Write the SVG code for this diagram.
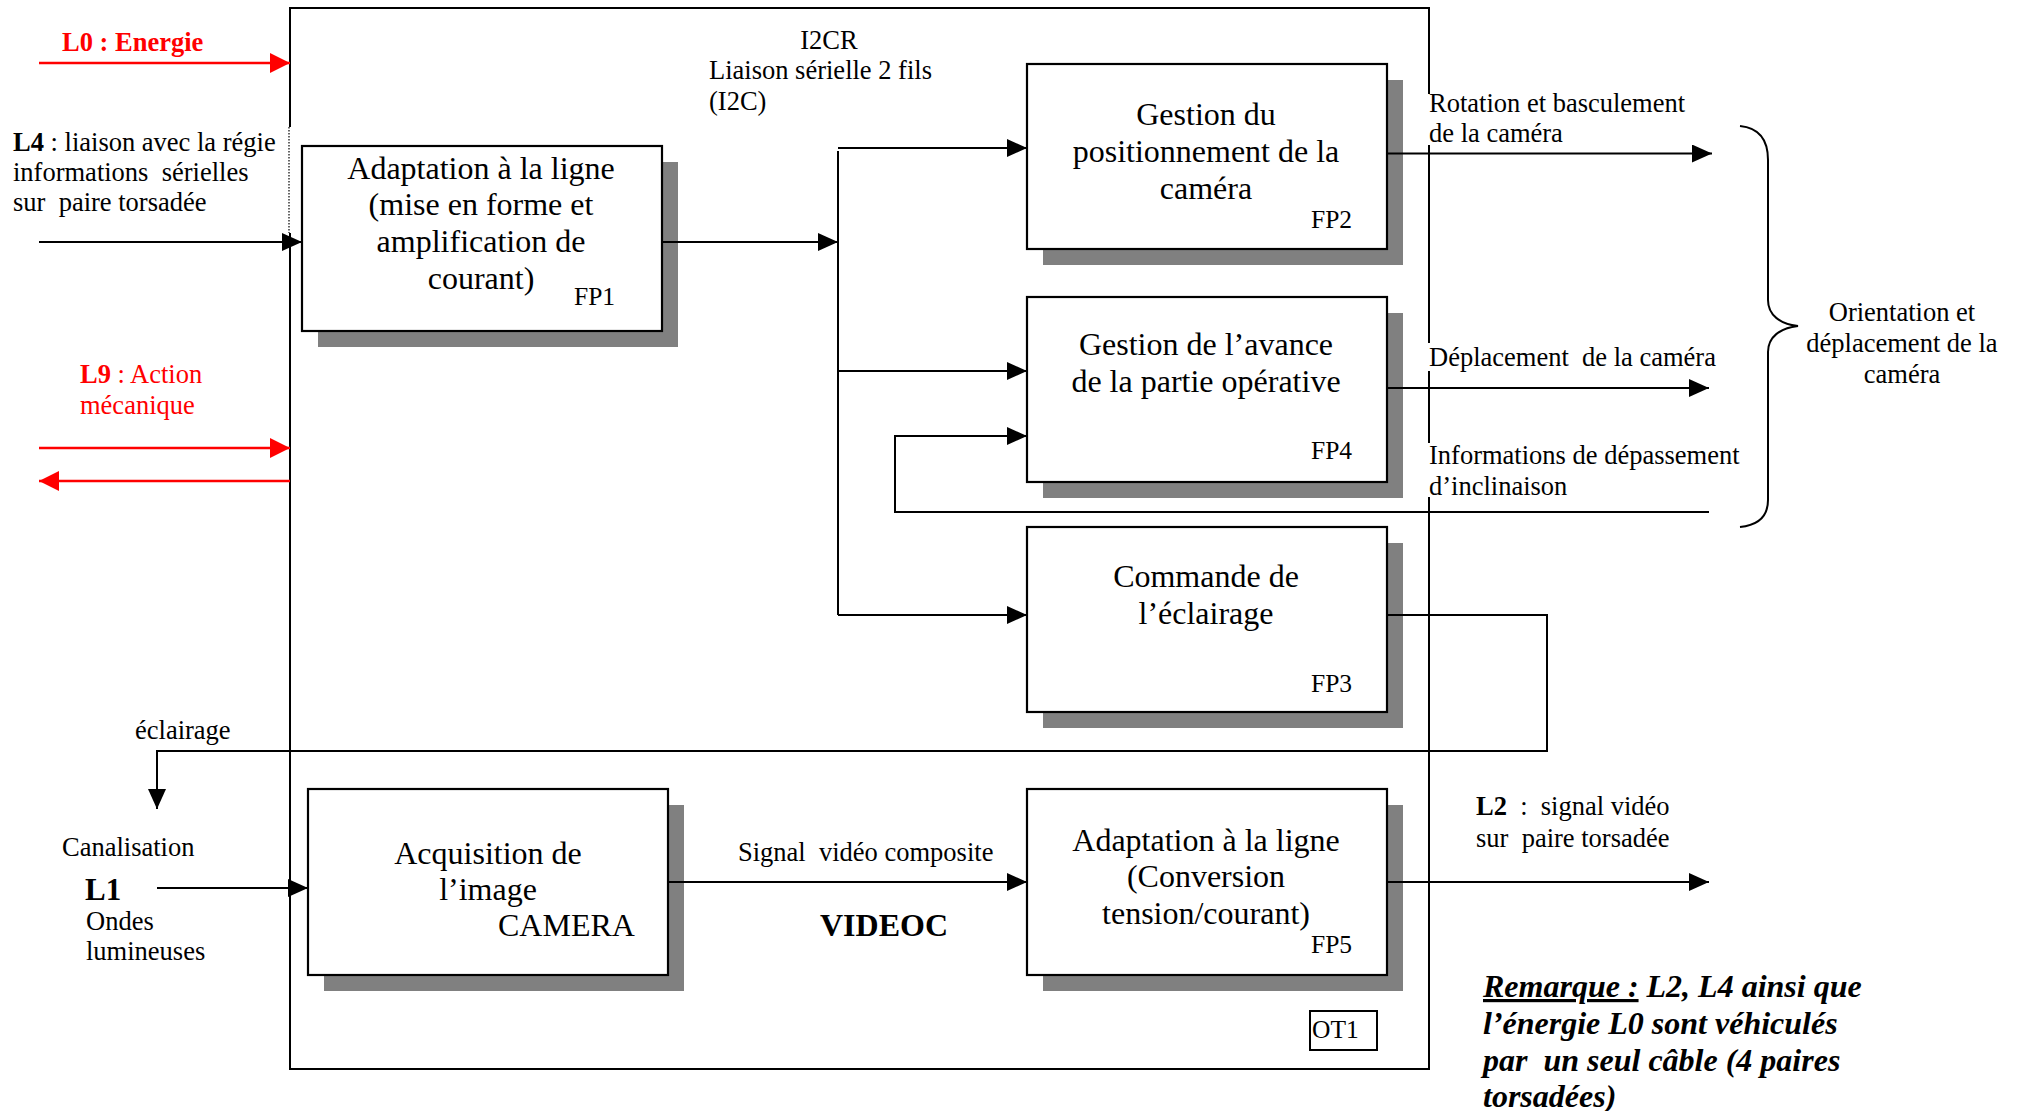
<svg xmlns="http://www.w3.org/2000/svg" width="2022" height="1111" viewBox="0 0 2022 1111">
  <style>
    .t { font-family: "Liberation Serif", "Times New Roman", serif; fill: #000; }
    .s { font-size: 26.5px; }
    .big { font-size: 32px; }
    .lbl { font-size: 25.5px; }
    .m { text-anchor: middle; }
    .bold { font-weight: bold; }
    .red { fill: #f00; }
    .box { fill: #fff; stroke: #000; stroke-width: 2.2; }
    .shadow { fill: #808080; }
    .frame { fill: none; stroke: #000; stroke-width: 2; }
    .wire { fill: none; stroke: #000; stroke-width: 2; }
    .wire-red { fill: none; stroke: #f00; stroke-width: 2.5; }
    .note { font-size: 32px; font-weight: bold; font-style: italic; }
  </style>
  <defs>
    <marker id="ah" markerUnits="userSpaceOnUse" markerWidth="20" markerHeight="18" viewBox="0 0 20 18" refX="20" refY="9" orient="auto">
      <path d="M0,0 L20,9 L0,18 z" fill="#000"/>
    </marker>
    <marker id="ahr" markerUnits="userSpaceOnUse" markerWidth="20" markerHeight="20" viewBox="0 0 20 20" refX="20" refY="10" orient="auto">
      <path d="M0,0 L20,10 L0,20 z" fill="#f00"/>
    </marker>
  </defs>

  <rect width="2022" height="1111" fill="#fff"/>

  <!-- OT1 enclosure: right edge interrupted by the label frames, left edge dotted behind L4 -->
  <g id="ot1-frame">
    <path class="frame" d="M289,8 H1430 M289,1069 H1430 M290,8 V127 M290,233 V1069 M1429,8 V94 M1429,145 V343 M1429,371 V443 M1429,497 V1069"/>
    <path d="M289,127 V233" fill="none" stroke="#000" stroke-width="1.2" stroke-dasharray="1.5 1.5"/>
    <rect x="1310" y="1011" width="67" height="39" fill="none" stroke="#000" stroke-width="2"/>
    <text class="t lbl" x="1312" y="1038">OT1</text>
  </g>

  <g id="fp1">
    <rect class="shadow" x="318" y="162" width="360" height="185"/>
    <rect class="box" x="302" y="146" width="360" height="185"/>
    <text class="t big m" x="481" y="178.5">Adaptation à la ligne</text>
    <text class="t big m" x="481" y="215.3">(mise en forme et</text>
    <text class="t big m" x="481" y="252.1">amplification de</text>
    <text class="t big m" x="481" y="288.9">courant)</text>
    <text class="t lbl" x="574" y="304.5">FP1</text>
  </g>

  <g id="fp2">
    <rect class="shadow" x="1043" y="80" width="360" height="185"/>
    <rect class="box" x="1027" y="64" width="360" height="185"/>
    <text class="t big m" x="1206" y="124.5">Gestion du</text>
    <text class="t big m" x="1206" y="161.5">positionnement de la</text>
    <text class="t big m" x="1206" y="198.5">caméra</text>
    <text class="t lbl" x="1311" y="228">FP2</text>
  </g>

  <g id="fp4">
    <rect class="shadow" x="1043" y="313" width="360" height="185"/>
    <rect class="box" x="1027" y="297" width="360" height="185"/>
    <text class="t big m" x="1206" y="355">Gestion de l’avance</text>
    <text class="t big m" x="1206" y="392">de la partie opérative</text>
    <text class="t lbl" x="1311" y="458.5">FP4</text>
  </g>

  <g id="fp3">
    <rect class="shadow" x="1043" y="543" width="360" height="185"/>
    <rect class="box" x="1027" y="527" width="360" height="185"/>
    <text class="t big m" x="1206" y="586.5">Commande de</text>
    <text class="t big m" x="1206" y="623.5">l’éclairage</text>
    <text class="t lbl" x="1311" y="691.5">FP3</text>
  </g>

  <g id="camera">
    <rect class="shadow" x="324" y="805" width="360" height="186"/>
    <rect class="box" x="308" y="789" width="360" height="186"/>
    <text class="t big m" x="488" y="863.5">Acquisition de</text>
    <text class="t big m" x="488" y="899.5">l’image</text>
    <text class="t big" x="498" y="935.5">CAMERA</text>
  </g>

  <g id="fp5">
    <rect class="shadow" x="1043" y="805" width="360" height="186"/>
    <rect class="box" x="1027" y="789" width="360" height="186"/>
    <text class="t big m" x="1206" y="850.5">Adaptation à la ligne</text>
    <text class="t big m" x="1206" y="887">(Conversion</text>
    <text class="t big m" x="1206" y="923.5">tension/courant)</text>
    <text class="t lbl" x="1311" y="952.5">FP5</text>
  </g>

  <g id="connectors">
    <!-- external inputs / outputs -->
    <path class="wire-red" d="M39,63 H290" marker-end="url(#ahr)"/>
    <path class="wire" d="M39,242 H302" marker-end="url(#ah)"/>
    <path class="wire-red" d="M39,448 H290" marker-end="url(#ahr)"/>
    <path class="wire-red" d="M290,481 H39" marker-end="url(#ahr)"/>
    <!-- I2C bus -->
    <path class="wire" d="M662,242 H838" marker-end="url(#ah)"/>
    <path class="wire" d="M838,151 V615"/>
    <path class="wire" d="M838,148 H1027" marker-end="url(#ah)"/>
    <path class="wire" d="M838,371 H1027" marker-end="url(#ah)"/>
    <path class="wire" d="M838,615 H1027" marker-end="url(#ah)"/>
    <!-- actuator outputs and inclination feedback -->
    <path class="wire" d="M1387,153.5 H1712" marker-end="url(#ah)"/>
    <path class="wire" d="M1386,388 H1709" marker-end="url(#ah)"/>
    <path class="wire" d="M1709,512 H895 V436 H1027" marker-end="url(#ah)"/>
    <!-- lighting loop back to the pipe -->
    <path class="wire" d="M1387,615 H1547 V751 H157 V809" marker-end="url(#ah)"/>
    <!-- video chain -->
    <path class="wire" d="M157,888 H308" marker-end="url(#ah)"/>
    <path class="wire" d="M668,882 H1027" marker-end="url(#ah)"/>
    <path class="wire" d="M1387,882 H1709" marker-end="url(#ah)"/>
    <!-- brace grouping the camera movements -->
    <path class="wire" d="M1740,126 C1760,128 1768,140 1768,160 L1768,300 C1768,315 1780,324 1798,326 C1780,328 1768,337 1768,352 L1768,500 C1768,515 1760,525 1740,527"/>
  </g>

  <g id="labels">
    <text class="t s bold red" x="62" y="51">L0 : Energie</text>
    <text class="t s" x="13" y="151" xml:space="preserve"><tspan class="bold">L4</tspan> : liaison avec la régie</text>
    <text class="t s" x="13" y="181" xml:space="preserve">informations  sérielles</text>
    <text class="t s" x="13" y="211" xml:space="preserve">sur  paire torsadée</text>
    <text class="t s red" x="80" y="382.5" xml:space="preserve"><tspan class="bold">L9</tspan> : Action</text>
    <text class="t s red" x="80" y="413.5">mécanique</text>
    <text class="t s" x="135" y="738.5">éclairage</text>
    <text class="t s" x="62" y="855.5">Canalisation</text>
    <text class="t bold" x="85" y="900" font-size="31">L1</text>
    <text class="t s" x="86" y="930">Ondes</text>
    <text class="t s" x="86" y="960">lumineuses</text>

    <text class="t s m" x="829" y="48.5">I2CR</text>
    <text class="t s" x="709" y="79">Liaison sérielle 2 fils</text>
    <text class="t s" x="709" y="109.5">(I2C)</text>

    <text class="t s" x="738" y="860.5" xml:space="preserve">Signal  vidéo composite</text>
    <text class="t bold" x="820" y="935.5" font-size="32">VIDEOC</text>

    <text class="t s" x="1429" y="111.5">Rotation et basculement</text>
    <text class="t s" x="1429" y="141.5">de la caméra</text>
    <text class="t s" x="1429" y="365.5" xml:space="preserve">Déplacement  de la caméra</text>
    <text class="t s" x="1429" y="463.5">Informations de dépassement</text>
    <text class="t s" x="1429" y="494.5">d’inclinaison</text>

    <text class="t s m" x="1902" y="320.5">Orientation et</text>
    <text class="t s m" x="1902" y="351.5">déplacement de la</text>
    <text class="t s m" x="1902" y="382.5">caméra</text>

    <text class="t s" x="1476" y="814.5" xml:space="preserve"><tspan class="bold">L2</tspan>  :  signal vidéo</text>
    <text class="t s" x="1476" y="846.5" xml:space="preserve">sur  paire torsadée</text>

    <text class="t note" x="1483" y="997" xml:space="preserve"><tspan text-decoration="underline">Remarque :</tspan> L2, L4 ainsi que</text>
    <text class="t note" x="1483" y="1034">l’énergie L0 sont véhiculés</text>
    <text class="t note" x="1483" y="1071" xml:space="preserve">par  un seul câble (4 paires</text>
    <text class="t note" x="1483" y="1106.5">torsadées)</text>
  </g>
</svg>
